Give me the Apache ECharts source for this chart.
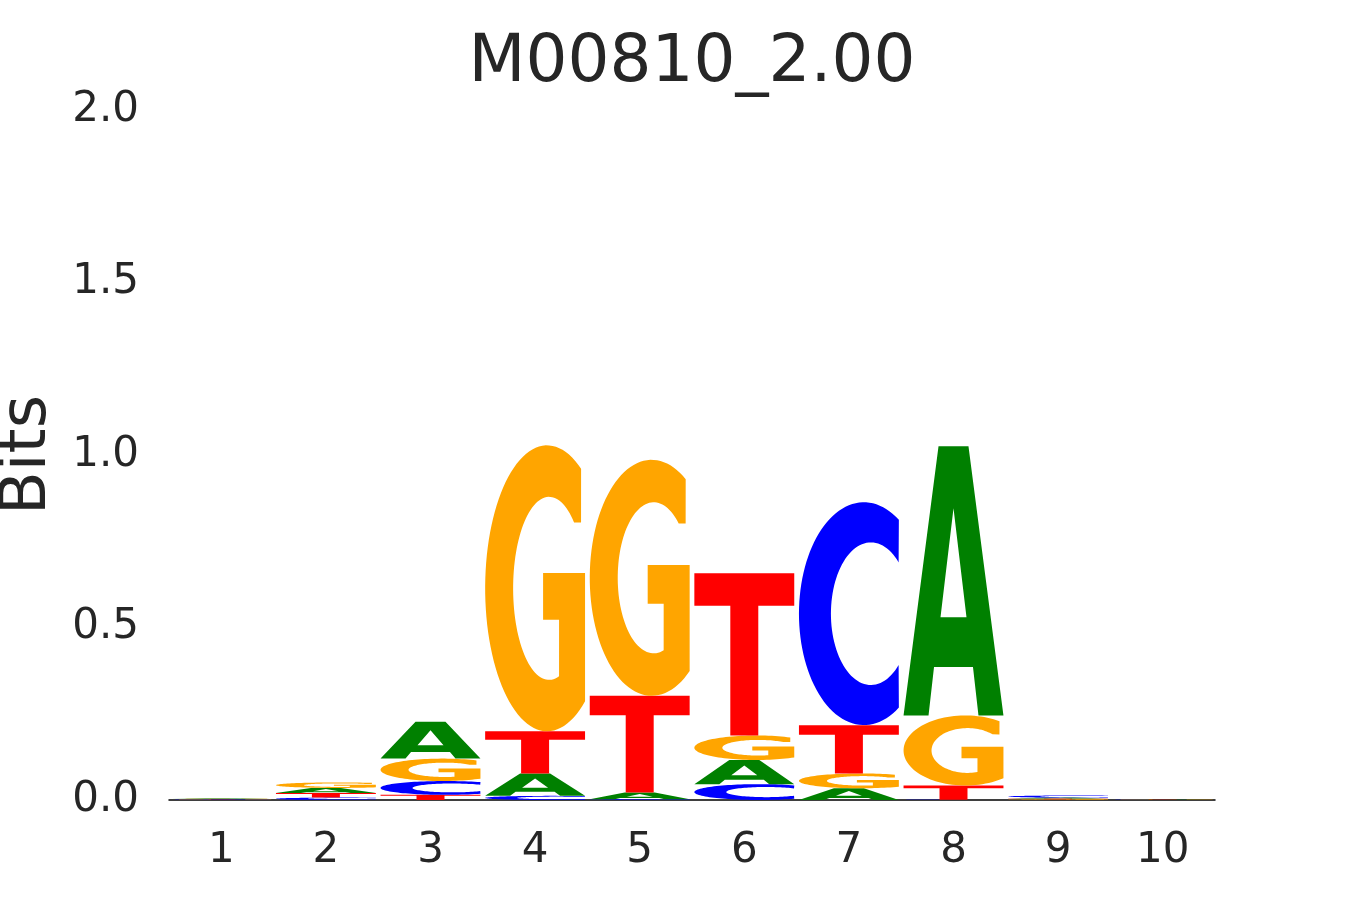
<!DOCTYPE html>
<html><head><meta charset="utf-8">
<script src="https://cdn.jsdelivr.net/npm/echarts/dist/echarts.min.js"></script>
<style>html,body{margin:0;padding:0;background:#fff}#chart{width:1350px;height:900px}</style>
</head><body><div id="chart"></div>
<script>
// ---- data ----
const titleText = 'M00810_2.00';
const positions = ['1','2','3','4','5','6','7','8','9','10'];
const letters = ['A','C','G','T'];
const bitsA = [0.0015, 0.015, 0.107, 0.065, 0.020, 0.070, 0.034, 0.780, 0.003, 0.0008];
const bitsC = [0.0012, 0.007, 0.040, 0.012, 0.002, 0.046, 0.646, 0.001, 0.006, 0.0008];
const bitsG = [0.0013, 0.016, 0.065, 0.829, 0.684, 0.071, 0.043, 0.203, 0.002, 0.0008];
const bitsT = [0.0010, 0.013, 0.015, 0.122, 0.280, 0.470, 0.140, 0.041, 0.002, 0.0008];
const yTickLabels = ['0.0','0.5','1.0','1.5','2.0'];
const yAxisName = 'Bits';

// ---- styles ----
const letterColors = {A:'#008000', C:'#0000ff', G:'#ffa500', T:'#ff0000'};
const textColor = '#262626';
const FONT = 'DejaVu Sans';

// ---- glyph outlines in unit box (x right, y down) ----
function arc(cx, cy, rx, ry, t0, t1, n) {
  const pts = [];
  for (let i = 0; i <= n; i++) {
    const t = (t0 + (t1 - t0) * i / n) * Math.PI / 180;
    pts.push([cx + rx * Math.cos(t), cy - ry * Math.sin(t)]);
  }
  return pts;
}
const glyphs = {
  A: [
    [[0,1],[0.35,0],[0.65,0],[1,1],[0.75,1],[0.695,0.82],[0.305,0.82],[0.25,1]],
    [[0.5,0.23],[0.37,0.635],[0.63,0.635]]
  ],
  T: [
    [[0,0],[1,0],[1,0.2],[0.64,0.2],[0.64,1],[0.36,1],[0.36,0.2],[0,0.2]]
  ],
  C: [
    [].concat(arc(0.65,0.5,0.65,0.5,57.4,302.6,80), arc(0.72,0.5,0.40,0.32,314,46,80))
  ],
  G: [
    [].concat(arc(0.62,0.5,0.62,0.5,56.7,307.8,80),
      [[1,0.446],[0.58,0.446],[0.58,0.61],[0.74,0.61]],
      arc(0.64,0.5,0.36,0.32,286.1,46,80),
      [[0.96,0.27]])
  ]
};
function area(c) { let s = 0; for (let i = 0; i < c.length; i++) { const a = c[i], b = c[(i+1)%c.length]; s += a[0]*b[1]-b[0]*a[1]; } return s; }
// enforce opposite winding for holes
Object.keys(glyphs).forEach(k => {
  const cs = glyphs[k]; const s0 = Math.sign(area(cs[0]));
  for (let i = 1; i < cs.length; i++) if (Math.sign(area(cs[i])) === s0) cs[i].reverse();
});
function glyphPath(letter, x, y, w, h) {
  return glyphs[letter].map(c => c.map((p, i) => (i ? 'L' : 'M') + (x + p[0]*w).toFixed(2) + ' ' + (y + p[1]*h).toFixed(2)).join(' ') + ' Z').join(' ');
}

// ---- stacked data: [pos, y0, y1, letterIndex] ----
const valuesByLetter = {A: bitsA, C: bitsC, G: bitsG, T: bitsT};
const stackData = [];
positions.forEach((p, i) => {
  const items = letters.map((L, li) => ({li, v: valuesByLetter[L][i]}));
  items.sort((a, b) => a.v - b.v);
  let base = 0;
  items.forEach(it => { stackData.push([i, base, base + it.v, it.li]); base += it.v; });
});

const chart = echarts.init(document.getElementById('chart'), null, {renderer: 'canvas'});
chart.setOption({
  animation: false,
  backgroundColor: '#ffffff',
  textStyle: {fontFamily: FONT},
  graphic: [{
    type: 'text', x: 692, y: 31,
    style: {text: titleText, fontSize: 66, fontFamily: FONT, fill: textColor, textAlign: 'center', textVerticalAlign: 'top'}
  }],
  grid: {left: 169, right: 135, top: 110, bottom: 100, containLabel: false, outerBoundsMode: 'none'},
  xAxis: {
    type: 'category', data: positions, boundaryGap: true,
    axisLine: {show: true, lineStyle: {color: '#000000', width: 1.5}},
    axisTick: {show: false},
    splitLine: {show: false},
    axisLabel: {fontSize: 42, color: textColor, fontFamily: FONT, margin: 30}
  },
  yAxis: {
    type: 'value', min: 0, max: 2, interval: 0.5,
    name: yAxisName, nameLocation: 'middle', nameGap: 109, nameRotate: 90,
    nameTextStyle: {fontSize: 64, color: textColor, fontFamily: FONT},
    axisLine: {show: false}, axisTick: {show: false}, splitLine: {show: false},
    axisLabel: {fontSize: 42, color: textColor, fontFamily: FONT, margin: 30, padding: [10, 0, 0, 0],
      formatter: (v) => yTickLabels[Math.round(v / 0.5)]}
  },
  series: [{
    type: 'custom',
    data: stackData,
    encode: {x: 0, y: [1, 2]},
    renderItem: function (params, api) {
      const xi = api.value(0), y0 = api.value(1), y1 = api.value(2), li = api.value(3);
      const pb = api.coord([xi, y0]);
      const pt = api.coord([xi, y1]);
      const bw = api.size([1, 0])[0] * 0.955;
      const h = pb[1] - pt[1];
      const L = letters[li];
      return {
        type: 'path',
        shape: {pathData: glyphPath(L, pb[0] - bw / 2, pt[1], bw, h)},
        style: {fill: letterColors[L]}
      };
    }
  }]
});
</script>
</body></html>
